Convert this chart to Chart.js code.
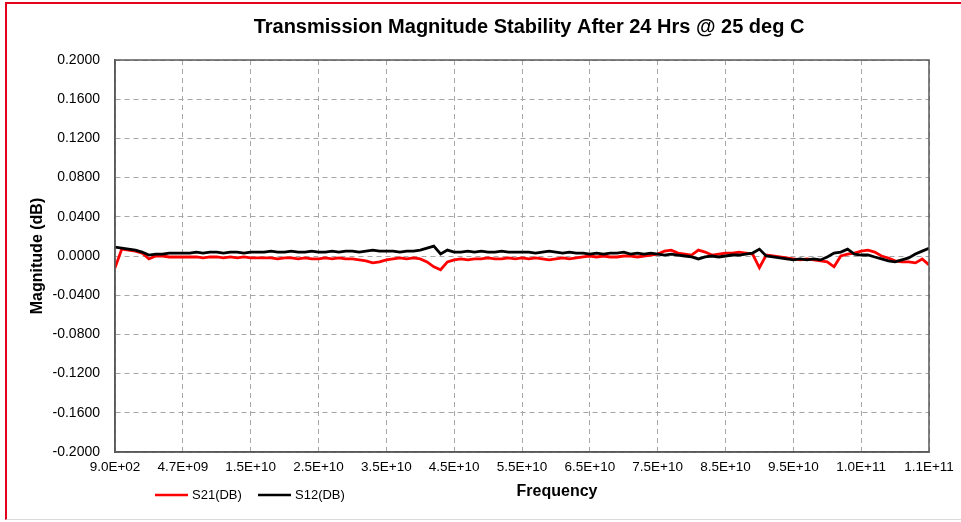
<!DOCTYPE html>
<html>
<head>
<meta charset="utf-8">
<title>Transmission Magnitude Stability</title>
<script src="https://cdn.jsdelivr.net/npm/chart.js@4.4.1/dist/chart.umd.min.js"></script>
<style>
    html, body { margin: 0; padding: 0; background: #fff; }
    #frame {
        position: absolute; left: 5px; top: 2px; width: 956px; height: 518px;
        box-sizing: border-box;
        border-top: 2px solid #e3001b; border-left: 2px solid #e3001b; border-bottom: 1px solid #d9d9d9;
    }
    #wrap { position: absolute; left: 0; top: 0; width: 961px; height: 522px; }
</style>
</head>
<body>
<div id="frame"></div>
<div id="wrap"><canvas id="magChart"></canvas></div>
<script>
// Tick labels (x axis is an Excel category axis, so labels sit at equal spacing)
const xTickLabels = ['9.0E+02', '4.7E+09', '1.5E+10', '2.5E+10', '3.5E+10', '4.5E+10', '5.5E+10',
    '6.5E+10', '7.5E+10', '8.5E+10', '9.5E+10', '1.0E+11', '1.1E+11'];
const yTickLabels = ['-0.2000', '-0.1600', '-0.1200', '-0.0800', '-0.0400', '0.0000',
    '0.0400', '0.0800', '0.1200', '0.1600', '0.2000'];

// Samples, one every 0.1 label interval
const s21Values = [
    -0.012, 0.007, 0.006, 0.005, 0.003, -0.003, 0.000, 0.000, -0.001, -0.001, -0.001,
    -0.001, -0.001, -0.002, -0.001, -0.001, -0.002, -0.001, -0.002, -0.001, -0.002,
    -0.002, -0.002, -0.002, -0.003, -0.002, -0.002, -0.003, -0.002, -0.003, -0.003,
    -0.002, -0.003, -0.002, -0.003, -0.003, -0.004, -0.005, -0.007, -0.006, -0.004,
    -0.003, -0.002, -0.003, -0.002, -0.003, -0.006, -0.011, -0.014, -0.006, -0.004,
    -0.003, -0.004, -0.003, -0.003, -0.002, -0.003, -0.003, -0.002, -0.003, -0.002,
    -0.003, -0.002, -0.003, -0.004, -0.003, -0.002, -0.003, -0.002, -0.001, 0.000,
    -0.001, 0.000, -0.001, -0.001, 0.000, 0.000, -0.001, 0.000, 0.001, 0.002,
    0.005, 0.006, 0.003, 0.002, 0.001, 0.006, 0.004, 0.001, 0.002, 0.003,
    0.003, 0.004, 0.003, 0.002, -0.012, 0.001, 0.000, -0.001, -0.002, -0.003,
    -0.004, -0.003, -0.004, -0.005, -0.006, -0.011, 0.000, 0.002, 0.003, 0.005,
    0.006, 0.004, 0.000, -0.002, -0.005, -0.006, -0.006, -0.007, -0.003, -0.009
];
const s12Values = [
    0.009, 0.008, 0.007, 0.006, 0.004, 0.001, 0.002, 0.002, 0.003, 0.003, 0.003,
    0.003, 0.004, 0.003, 0.004, 0.004, 0.003, 0.004, 0.004, 0.003, 0.004,
    0.004, 0.004, 0.005, 0.004, 0.004, 0.005, 0.004, 0.004, 0.005, 0.004,
    0.004, 0.005, 0.004, 0.005, 0.005, 0.004, 0.005, 0.006, 0.005, 0.005,
    0.005, 0.004, 0.005, 0.005, 0.006, 0.008, 0.010, 0.002, 0.006, 0.004,
    0.004, 0.005, 0.004, 0.005, 0.004, 0.004, 0.005, 0.004, 0.004, 0.004,
    0.004, 0.003, 0.004, 0.005, 0.004, 0.003, 0.004, 0.003, 0.003, 0.002,
    0.003, 0.002, 0.003, 0.003, 0.004, 0.002, 0.003, 0.002, 0.003, 0.002,
    0.001, 0.002, 0.001, 0.000, -0.001, -0.003, -0.001, 0.000, -0.001, 0.000,
    0.001, 0.001, 0.002, 0.003, 0.007, 0.000, -0.001, -0.002, -0.003, -0.004,
    -0.003, -0.004, -0.003, -0.004, -0.001, 0.003, 0.004, 0.007, 0.002, 0.001,
    0.001, -0.001, -0.003, -0.005, -0.006, -0.004, -0.002, 0.002, 0.005, 0.008
];
const xStep = 0.1;

const toPoints = (values) => values.map((y, i) => ({ x: i * xStep, y: y }));

// Title, axis titles, legend and plot frame drawn on the canvas
const labelsPlugin = {
    id: 'labelsPlugin',
    afterDraw(chart) {
        const ctx = chart.ctx;
        const a = chart.chartArea;
        ctx.save();
        ctx.strokeStyle = '#595959';
        ctx.lineWidth = 1.5;
        ctx.strokeRect(a.left, a.top, a.right - a.left, a.bottom - a.top);

        ctx.fillStyle = '#000';
        ctx.textBaseline = 'middle';
        ctx.textAlign = 'center';
        ctx.font = 'bold 20px "Liberation Sans", Arial, sans-serif';
        ctx.fillText('Transmission Magnitude Stability After 24 Hrs @ 25 deg C', 529, 27);

        ctx.font = 'bold 16px "Liberation Sans", Arial, sans-serif';
        ctx.fillText('Frequency', 557, 492);

        ctx.save();
        ctx.translate(38, 256);
        ctx.rotate(-Math.PI / 2);
        ctx.fillText('Magnitude (dB)', 0, 0);
        ctx.restore();

        // legend
        ctx.font = '13px "Liberation Sans", Arial, sans-serif';
        ctx.textAlign = 'left';
        let x = 155;
        chart.data.datasets.forEach(function (ds) {
            ctx.strokeStyle = ds.borderColor;
            ctx.lineWidth = 2.5;
            ctx.beginPath();
            ctx.moveTo(x, 495);
            ctx.lineTo(x + 33, 495);
            ctx.stroke();
            ctx.fillStyle = '#000';
            ctx.fillText(ds.label, x + 37, 495);
            x += 103;
        });
        ctx.restore();
    }
};

const magCtx = document.getElementById('magChart').getContext('2d');
const magChart = new Chart(magCtx, {
    type: 'line',
    data: {
        datasets: [{
            label: 'S21(DB)',
            borderColor: '#ff0000',
            backgroundColor: '#ff0000',
            borderWidth: 2.8,
            pointRadius: 0,
            order: 1,
            data: toPoints(s21Values)
        }, {
            label: 'S12(DB)',
            borderColor: '#000000',
            backgroundColor: '#000000',
            borderWidth: 2.8,
            pointRadius: 0,
            order: 0,
            data: toPoints(s12Values)
        }]
    },
    options: {
        responsive: true,
        maintainAspectRatio: false,
        animation: false,
        layout: { padding: { top: 60, right: 32, left: 0, bottom: 0 } },
        plugins: {
            legend: { display: false },
            title: { display: false },
            tooltip: { enabled: false }
        },
        scales: {
            x: {
                type: 'linear',
                min: 0,
                max: 12,
                afterFit: function (scale) { scale.height = 70; },
                ticks: {
                    stepSize: 1,
                    padding: 7,
                    color: '#000',
                    maxRotation: 0,
                    font: { family: '"Liberation Sans", Arial, sans-serif', size: 13.5 },
                    callback: function (value, index) { return xTickLabels[index]; }
                },
                grid: { color: '#a6a6a6', lineWidth: 1, drawTicks: false },
                border: { display: true, color: '#595959', width: 1.5, dash: [5, 4] }
            },
            y: {
                min: -0.2,
                max: 0.2,
                afterFit: function (scale) { scale.width = 115; },
                ticks: {
                    stepSize: 0.04,
                    padding: 15,
                    color: '#000',
                    font: { family: '"Liberation Sans", Arial, sans-serif', size: 14 },
                    callback: function (value, index) { return yTickLabels[index]; }
                },
                grid: { color: '#a6a6a6', lineWidth: 1, drawTicks: false },
                border: { display: true, color: '#595959', width: 1.5, dash: [5, 4] }
            }
        }
    },
    plugins: [labelsPlugin]
});
</script>
</body>
</html>
